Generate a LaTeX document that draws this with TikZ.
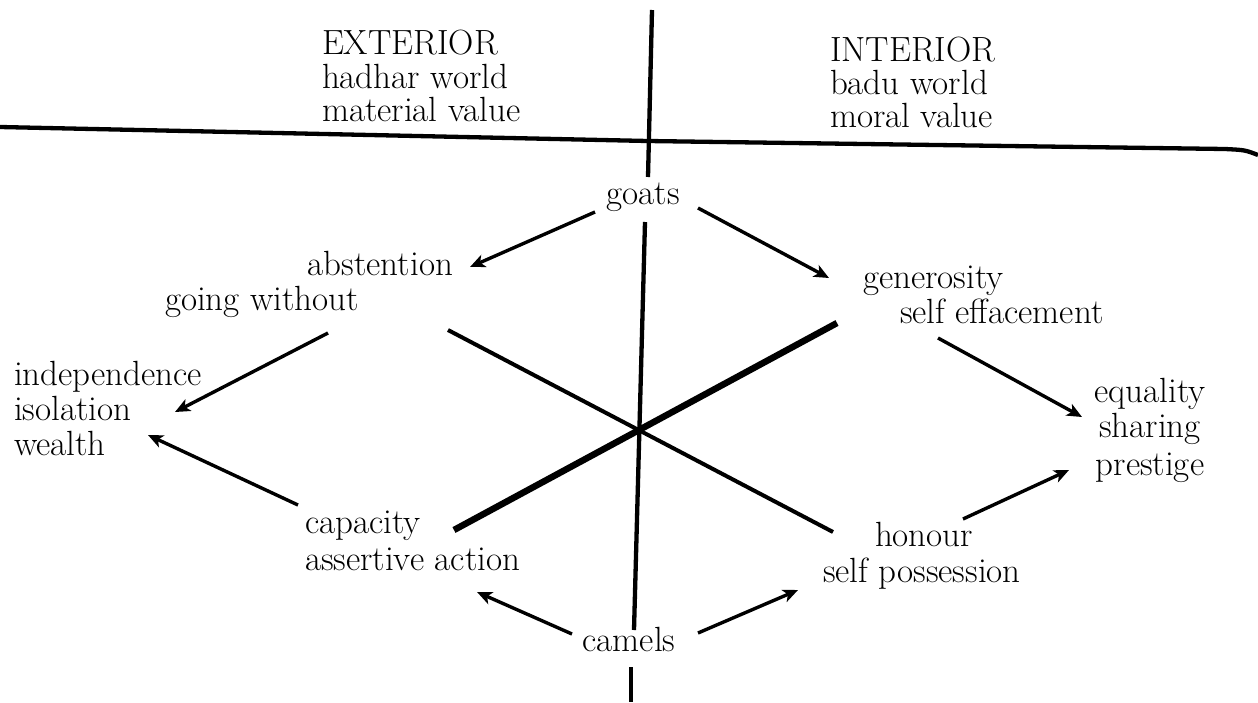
\documentclass[tikz,border=0pt]{standalone}
\usetikzlibrary{arrows.meta}
\begin{document}
\begin{tikzpicture}[x=1pt,y=-1pt,
  lbl/.style={inner sep=0pt,outer sep=0pt,font=\fontsize{35}{40}\selectfont},
  arr/.style={line width=3.4pt,-{Stealth[length=15pt,width=13pt,inset=4pt]}},
  axis/.style={line width=4.3pt},
  thinline/.style={line width=4pt},
  thickline/.style={line width=6.5pt}]
\useasboundingbox (0,0) rectangle (1258,702);
% header
\node[lbl,anchor=base west] (ext1) at (322,54) {EXTERIOR};
\node[lbl,anchor=base west] (ext2) at (322,88) {hadhar world};
\node[lbl,anchor=base west] (ext3) at (322,121) {material value};
\node[lbl,anchor=base west] (int1) at (830,61) {INTERIOR};
\node[lbl,anchor=base west] (int2) at (830,94) {badu world};
\node[lbl,anchor=base west] (int3) at (830,127) {moral value};
% labels
\node[lbl,anchor=base] (goats) at (643,204) {goats};
\node[lbl,anchor=base east] (abst) at (453,275) {abstention};
\node[lbl,anchor=base west] (gowo) at (165,310) {going without};
\node[lbl,anchor=base west] (gen) at (863,288) {generosity};
\node[lbl,anchor=base west] (seff) at (900,323) {self effacement};
\node[lbl,anchor=base west] (indep) at (14,385) {independence};
\node[lbl,anchor=base west] (isol) at (14,420) {isolation};
\node[lbl,anchor=base west] (wealth) at (14,455) {wealth};
\node[lbl,anchor=base] (equal) at (1150,402) {equality};
\node[lbl,anchor=base] (share) at (1150,437) {sharing};
\node[lbl,anchor=base] (prest) at (1150,475) {prestige};
\node[lbl,anchor=base west] (cap) at (305,533) {capacity};
\node[lbl,anchor=base west] (assert) at (305,570) {assertive action};
\node[lbl,anchor=base west] (honour) at (875,546) {honour};
\node[lbl,anchor=base west] (selfp) at (823,582) {self possession};
\node[lbl,anchor=base] (camels) at (629,651) {camels};
% axes
\coordinate (vtop) at (652,10);
\coordinate (vbot) at (631,702);
\draw[axis] (0,127) -- (648,141) -- (1225,149) .. controls (1245,150) .. (1258,155);
\draw[axis] (vtop) -- ([shift={(5,-27)}]goats.base);
\draw[axis] ([shift={(2,18)}]goats.base) -- ([shift={(5,-21)}]camels.base);
\draw[axis] ([shift={(2,16)}]camels.base) -- (vbot);
% diagonals
\draw[thickline] ([shift={(149,-3)}]cap.base west) -- ([shift={(-26,35)}]gen.base west);
\draw[thinline] ([shift={(283,20)}]gowo.base west) -- ([shift={(-42,-14)}]honour.base west);
% arrows
\draw[arr] ([shift={(-48,8)}]goats.base) -- ([shift={(17,-8)}]abst.base east);
\draw[arr] ([shift={(55,4)}]goats.base) -- ([shift={(-34,-10)}]gen.base west);
\draw[arr] ([shift={(163,23)}]gowo.base west) -- ([shift={(161,-8)}]isol.base west);
\draw[arr] ([shift={(-7,-28)}]cap.base west) -- ([shift={(134,-20)}]wealth.base west);
\draw[arr] ([shift={(38,15)}]seff.base west) -- ([shift={(-68,15)}]equal.base);
\draw[arr] ([shift={(88,-27)}]honour.base west) -- ([shift={(-81,-5)}]prest.base);
\draw[arr] ([shift={(-57,-17)}]camels.base) -- ([shift={(172,22)}]assert.base west);
\draw[arr] ([shift={(69,-18)}]camels.base) -- ([shift={(-25,8)}]selfp.base west);
\end{tikzpicture}
\end{document}
